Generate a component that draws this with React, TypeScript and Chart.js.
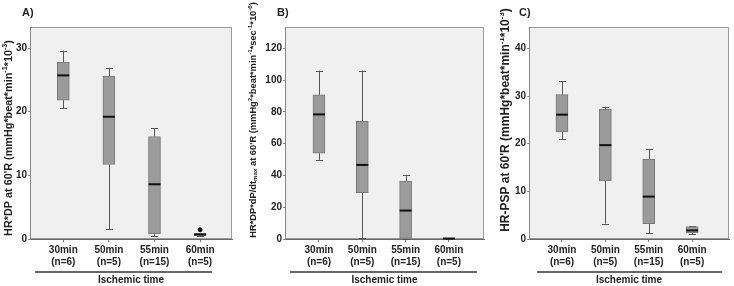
import React, { useEffect, useRef } from "react";
import { Chart, registerables } from "chart.js";

Chart.register(...registerables);

// ---------- data ----------
const categories = ["30min", "50min", "55min", "60min"];
const groupSizes = ["(n=6)", "(n=5)", "(n=15)", "(n=5)"];

// Panel A: HR*DP
const aLow = [20.5, 1.5, 0.43, 0.45];
const aQ1 = [21.8, 11.7, 0.85, 0.55];
const aMedian = [25.7, 19.2, 8.6, 0.7];
const aQ3 = [27.8, 25.6, 16.1, 0.9];
const aHigh = [29.6, 26.9, 17.4, 0.9];
const aOutliers = [{ cat: 4, value: 1.45 }];

// Panel B: HR*DP*dP/dtmax
const bLow = [49.8, 0.4, 0.2, 0.2];
const bQ1 = [54.0, 29.2, 0.4, 0.2];
const bMedian = [78.4, 46.6, 17.9, 0.3];
const bQ3 = [90.7, 74.0, 36.5, 0.4];
const bHigh = [105.9, 106.0, 40.3, 0.4];
const bOutliers: { cat: number; value: number }[] = [];

// Panel C: HR-PSP
const cLow = [21.0, 3.2, 1.2, 1.1];
const cQ1 = [22.5, 12.2, 3.2, 1.3];
const cMedian = [26.1, 19.7, 8.9, 1.8];
const cQ3 = [30.3, 27.2, 16.8, 2.6];
const cHigh = [33.1, 27.8, 18.9, 2.7];
const cOutliers: { cat: number; value: number }[] = [];

const yTicksA = [0, 10, 20, 30];
const yTicksB = [0, 20, 40, 60, 80, 100, 120];
const yTicksC = [0, 10, 20, 30, 40];

const xTitle = "Ischemic time";

// ---------- panel layout ----------
type PanelCfg = {
  letter: string;
  letterX: number;
  yTitle: string; // ^{..} superscript, _{..} subscript
  titleX: number;
  titleY: number;
  titleSpan: number;
  low: number[];
  q1: number[];
  median: number[];
  q3: number[];
  high: number[];
  outliers: { cat: number; value: number }[];
  yTicks: number[];
  yMax: number;
  xMin: number;
  xMax: number;
  left: number;
  width: number;
  axisWidth: number;
  padRight: number;
  lineStart: number;
  lineEnd: number;
};

const panels: PanelCfg[] = [
  {
    letter: "A)",
    letterX: 20,
    yTitle: "HR*DP at 60'R (mmHg*beat*min^{-1}*10^{-3})",
    titleX: 7, titleY: 138, titleSpan: 196,
    low: aLow, q1: aQ1, median: aMedian, q3: aQ3, high: aHigh, outliers: aOutliers,
    yTicks: yTicksA, yMax: 33.3, xMin: 0.27, xMax: 4.7,
    left: 2, width: 240, axisWidth: 28, padRight: 10, lineStart: 5, lineEnd: -20,
  },
  {
    letter: "B)",
    letterX: 33,
    yTitle: "HR*DP*dP/dt_{max} at 60'R (mmHg^{2}*beat*min^{-1}*sec^{-1}*10^{-6})",
    titleX: 9, titleY: 120, titleSpan: 236,
    low: bLow, q1: bQ1, median: bMedian, q3: bQ3, high: bHigh, outliers: bOutliers,
    yTicks: yTicksB, yMax: 133.4, xMin: 0.215, xMax: 4.81,
    left: 244, width: 246, axisWidth: 41, padRight: 6, lineStart: 5, lineEnd: -7,
  },
  {
    letter: "C)",
    letterX: 19,
    yTitle: "HR-PSP at 60'R (mmHg*beat*min^{-1}*10^{-3})",
    titleX: 6, titleY: 120, titleSpan: 224,
    low: cLow, q1: cQ1, median: cMedian, q3: cQ3, high: cHigh, outliers: cOutliers,
    yTicks: yTicksC, yMax: 44.5, xMin: 0.24, xMax: 4.85,
    left: 500, width: 234, axisWidth: 29, padRight: 5, lineStart: 8, lineEnd: -7,
  },
];

const FONT = "'Liberation Sans', Arial, Helvetica, sans-serif";
const TEXT = "#222";

type Seg = { text: string; kind: "n" | "sup" | "sub" };
function parseRich(s: string): Seg[] {
  const out: Seg[] = [];
  const re = /([\^_])\{([^}]*)\}/g;
  let last = 0;
  let m: RegExpExecArray | null;
  while ((m = re.exec(s))) {
    if (m.index > last) out.push({ text: s.slice(last, m.index), kind: "n" });
    out.push({ text: m[2], kind: m[1] === "^" ? "sup" : "sub" });
    last = re.lastIndex;
  }
  if (last < s.length) out.push({ text: s.slice(last), kind: "n" });
  return out;
}

function drawRichVertical(ctx: CanvasRenderingContext2D, s: string, cx: number, cy: number, span: number) {
  const segs = parseRich(s);
  const measure = (size: number) => {
    let w = 0;
    for (const sg of segs) {
      const fs = sg.kind === "n" ? size : size * 0.66;
      ctx.font = `bold ${fs}px ${FONT}`;
      w += ctx.measureText(sg.text).width;
    }
    return w;
  };
  const base = 10;
  const size = (base * span) / measure(base);
  const total = measure(size);
  ctx.save();
  ctx.translate(cx, cy);
  ctx.rotate(-Math.PI / 2);
  ctx.fillStyle = TEXT;
  ctx.textBaseline = "middle";
  ctx.textAlign = "left";
  let x = -total / 2;
  for (const sg of segs) {
    const fs = sg.kind === "n" ? size : size * 0.66;
    ctx.font = `bold ${fs}px ${FONT}`;
    const dy = sg.kind === "sup" ? -size * 0.32 : sg.kind === "sub" ? size * 0.3 : 0;
    ctx.fillText(sg.text, x, dy);
    x += ctx.measureText(sg.text).width;
  }
  ctx.restore();
}

function BoxPanel({ cfg }: { cfg: PanelCfg }) {
  const ref = useRef<HTMLCanvasElement | null>(null);

  useEffect(() => {
    const canvas = ref.current;
    if (!canvas) return;

    const boxPlugin = {
      id: "boxExtras",
      beforeDraw(chart: any) {
        const { ctx, chartArea: a } = chart;
        ctx.save();
        ctx.fillStyle = "#f0f0f0";
        ctx.fillRect(a.left, a.top, a.right - a.left, a.bottom - a.top);
        ctx.strokeStyle = "#9a9a9a";
        ctx.lineWidth = 1;
        ctx.strokeRect(a.left + 0.5, a.top + 0.5, a.right - a.left - 1, a.bottom - a.top - 1);
        ctx.restore();
      },
      beforeDatasetsDraw(chart: any) {
        const { ctx } = chart;
        const xs = chart.scales.x;
        const ys = chart.scales.y;
        ctx.save();
        ctx.strokeStyle = "#555";
        ctx.lineWidth = 1;
        for (let i = 0; i < categories.length; i++) {
          const x = Math.round(xs.getPixelForValue(i + 1)) + 0.5;
          const yl = ys.getPixelForValue(cfg.low[i]);
          const y1 = ys.getPixelForValue(cfg.q1[i]);
          const y3 = ys.getPixelForValue(cfg.q3[i]);
          const yh = ys.getPixelForValue(cfg.high[i]);
          ctx.beginPath();
          ctx.moveTo(x, yl);
          ctx.lineTo(x, y1);
          ctx.moveTo(x, y3);
          ctx.lineTo(x, yh);
          ctx.moveTo(x - 3.5, Math.round(yl) + 0.5);
          ctx.lineTo(x + 3.5, Math.round(yl) + 0.5);
          ctx.moveTo(x - 3.5, Math.round(yh) + 0.5);
          ctx.lineTo(x + 3.5, Math.round(yh) + 0.5);
          ctx.stroke();
        }
        ctx.restore();
      },
      afterDatasetsDraw(chart: any) {
        const { ctx } = chart;
        const xs = chart.scales.x;
        const ys = chart.scales.y;
        ctx.save();
        ctx.strokeStyle = "#111";
        ctx.lineWidth = 2;
        for (let i = 0; i < categories.length; i++) {
          const x = xs.getPixelForValue(i + 1);
          const ym = ys.getPixelForValue(cfg.median[i]);
          ctx.beginPath();
          ctx.moveTo(x - 6, ym);
          ctx.lineTo(x + 6, ym);
          ctx.stroke();
        }
        ctx.restore();
      },
      afterDraw(chart: any) {
        const { ctx, chartArea: a } = chart;
        ctx.save();
        // axis underline
        ctx.strokeStyle = "#333";
        ctx.lineWidth = 1.5;
        ctx.beginPath();
        ctx.moveTo(a.left + cfg.lineStart, 272);
        ctx.lineTo(a.right + cfg.lineEnd, 272);
        ctx.stroke();
        // panel letter
        ctx.fillStyle = TEXT;
        ctx.font = `bold 11px ${FONT}`;
        ctx.textBaseline = "middle";
        ctx.textAlign = "left";
        ctx.fillText(cfg.letter, cfg.letterX, 13);
        ctx.restore();
        // y-axis title with sub/superscripts
        drawRichVertical(ctx, cfg.yTitle, cfg.titleX, cfg.titleY, cfg.titleSpan);
      },
    };

    const chart = new Chart(canvas, {
      type: "bar",
      data: {
        datasets: [
          {
            type: "bar",
            data: categories.map((_, i) => ({ x: i + 1, y: [cfg.q1[i], cfg.q3[i]] })) as any,
            backgroundColor: "#9b9b9b",
            borderColor: "#777",
            borderWidth: 1,
            borderSkipped: false,
            barThickness: 12,
            grouped: false,
          } as any,
          {
            type: "scatter",
            data: cfg.outliers.map((o) => ({ x: o.cat, y: o.value })),
            backgroundColor: "#111",
            borderColor: "#111",
            pointRadius: 2,
          } as any,
        ],
      },
      options: {
        animation: false,
        responsive: false,
        maintainAspectRatio: false,
        events: [],
        layout: { padding: { top: 27, right: cfg.padRight, left: 0, bottom: 0 } },
        plugins: { legend: { display: false }, tooltip: { enabled: false }, title: { display: false } },
        scales: {
          x: {
            type: "linear",
            offset: false,
            min: cfg.xMin,
            max: cfg.xMax,
            afterBuildTicks: (axis: any) => {
              axis.ticks = categories.map((_, i) => ({ value: i + 1 }));
            },
            afterFit: (axis: any) => {
              axis.height = 47;
            },
            ticks: {
              autoSkip: false,
              maxRotation: 0,
              padding: 2,
              color: TEXT,
              font: { family: FONT, size: 10, weight: "bold", lineHeight: 1.2 },
              callback: (v: any) => {
                const i = Math.round(Number(v)) - 1;
                return [categories[i], groupSizes[i]];
              },
            },
            grid: { drawOnChartArea: false, drawTicks: true, tickLength: 3, color: "#777", offset: false },
            border: { display: true, color: "#666", width: 1 },
            title: {
              display: true,
              text: xTitle,
              color: TEXT,
              padding: 0,
              font: { family: FONT, size: 10, weight: "bold", lineHeight: 1.2 },
            },
          },
          y: {
            type: "linear",
            min: 0,
            max: cfg.yMax,
            afterBuildTicks: (axis: any) => {
              axis.ticks = cfg.yTicks.map((v) => ({ value: v }));
            },
            afterFit: (axis: any) => {
              axis.width = cfg.axisWidth;
            },
            ticks: {
              padding: 1,
              color: TEXT,
              font: { family: FONT, size: 10, weight: "bold" },
            },
            grid: { drawOnChartArea: false, drawTicks: true, tickLength: 2, color: "#888" },
            border: { display: true, color: "#888", width: 1 },
            title: { display: false },
          },
        },
      } as any,
      plugins: [boxPlugin],
    });

    return () => chart.destroy();
  }, [cfg]);

  return (
    <canvas
      ref={ref}
      width={cfg.width}
      height={286}
      style={{ position: "absolute", left: cfg.left, top: 0, width: cfg.width, height: 286 }}
    />
  );
}

export default function App() {
  useEffect(() => {
    document.body.style.margin = "0";
  }, []);
  return (
    <div style={{ position: "relative", width: 734, height: 286, background: "#fff", overflow: "hidden" }}>
      {panels.map((p) => (
        <BoxPanel key={p.letter} cfg={p} />
      ))}
    </div>
  );
}
